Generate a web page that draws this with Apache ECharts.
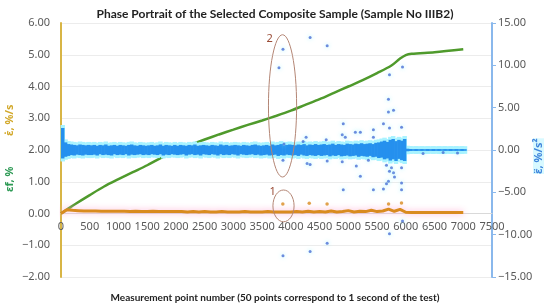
<!DOCTYPE html>
<html>
<head>
<meta charset="utf-8">
<script src="https://cdn.jsdelivr.net/npm/echarts@6/dist/echarts.min.js"></script>
<style>
  html, body { margin: 0; padding: 0; background: #fff; }
  #chart { width: 550px; height: 307px; }
</style>
</head>
<body>
<div id="chart"></div>
<script>
// strain εf, % (left axis)
var strainX = [0, 100, 250, 500, 750, 1000, 1250, 1500, 1750, 2000, 2250, 2500, 2750, 3000, 3250, 3500,
  3750, 4000, 4250, 4500, 4750, 5000, 5250, 5500, 5750, 5900, 6000, 6100, 6500, 7000];
var strainY = [0, 0.12, 0.30, 0.58, 0.85, 1.08, 1.30, 1.52, 1.76, 1.98, 2.16, 2.33, 2.49, 2.64, 2.79, 2.93,
  3.08, 3.24, 3.42, 3.60, 3.80, 4.00, 4.20, 4.42, 4.66, 4.88, 4.99, 5.03, 5.08, 5.17];

// strain rate ε̇, %/s (left axis), one value every 100 points
var rateStep = 100;
var rateY = [0.00, 0.12, 0.10, 0.09, 0.08, 0.08, 0.08, 0.07, 0.07, 0.07,
  0.07, 0.07, 0.06, 0.07, 0.06, 0.06, 0.07, 0.06, 0.06, 0.06,
  0.06, 0.06, 0.05, 0.06, 0.05, 0.06, 0.05, 0.05, 0.06, 0.05,
  0.05, 0.05, 0.06, 0.05, 0.05, 0.05, 0.06, 0.05, 0.05, 0.05,
  0.05, 0.06, 0.05, 0.07, 0.05, 0.06, 0.05, 0.08, 0.05, 0.06,
  0.09, 0.05, 0.07, 0.06, 0.10, 0.06, 0.08, 0.14, 0.07, 0.13,
  0.04, 0.03, 0.03, 0.03, 0.03, 0.03, 0.03, 0.03, 0.03, 0.03, 0.03];
var rateOutX = [3860, 4320, 4630, 5700, 5925];
var rateOutY = [0.30, 0.32, 0.30, 0.30, 0.33];

// strain acceleration ε̈, %/s² (right axis): spread (max / min) of each 50-point window
var accelStep = 50;
var accelHigh = [2.6, 0.9, 0.7, 0.65, 0.6, 0.55, 0.65, 0.6, 0.55, 0.6,
  0.55, 0.6, 0.5, 0.6, 0.55, 0.65, 0.5, 0.55, 0.6, 0.5,
  0.6, 0.55, 0.5, 0.6, 0.65, 0.55, 0.5, 0.6, 0.55, 0.5,
  0.55, 0.6, 0.5, 0.55, 0.65, 0.5, 0.6, 0.55, 0.5, 0.6,
  0.5, 0.6, 0.55, 0.5, 0.6, 0.55, 0.65, 0.5, 0.55, 0.6,
  0.55, 0.5, 0.6, 0.55, 0.5, 0.65, 0.55, 0.6, 0.5, 0.55,
  0.6, 0.55, 0.5, 0.6, 0.55, 0.5, 0.6, 0.65, 0.55, 0.5,
  0.55, 0.6, 0.5, 0.65, 0.55, 0.6, 0.7, 0.55, 0.6, 0.65,
  0.6, 0.55, 0.65, 0.6, 0.7, 0.55, 0.65, 0.6, 0.7, 0.6,
  0.65, 0.7, 0.6, 0.65, 0.75, 0.6, 0.7, 0.65, 0.6, 0.75,
  0.7, 0.65, 0.75, 0.7, 0.8, 0.7, 0.75, 0.8, 0.7, 0.85,
  0.9, 1.0, 1.1, 0.95, 1.2, 1.3, 1.05, 1.2, 1.1, 1.3,
  0.15, 0.12, 0.1, 0.12, 0.1, 0.12, 0.1, 0.12, 0.1, 0.12,
  0.1, 0.12, 0.1, 0.12, 0.1, 0.12, 0.1, 0.12, 0.1, 0.12,
  0.1];
var accelLow = [-1.0, -0.8, -0.7, -0.6, -0.65, -0.55, -0.6, -0.65, -0.55, -0.6,
  -0.6, -0.55, -0.65, -0.5, -0.6, -0.55, -0.6, -0.65, -0.5, -0.6,
  -0.55, -0.6, -0.5, -0.65, -0.55, -0.6, -0.55, -0.5, -0.6, -0.55,
  -0.6, -0.5, -0.55, -0.6, -0.5, -0.65, -0.55, -0.6, -0.5, -0.55,
  -0.6, -0.55, -0.5, -0.65, -0.55, -0.5, -0.6, -0.55, -0.65, -0.5,
  -0.55, -0.6, -0.5, -0.55, -0.65, -0.5, -0.6, -0.55, -0.6, -0.5,
  -0.55, -0.65, -0.5, -0.55, -0.6, -0.55, -0.5, -0.6, -0.55, -0.65,
  -0.6, -0.55, -0.65, -0.6, -0.55, -0.7, -0.6, -0.65, -0.55, -0.6,
  -0.65, -0.6, -0.7, -0.55, -0.65, -0.7, -0.6, -0.65, -0.7, -0.6,
  -0.7, -0.65, -0.6, -0.75, -0.65, -0.7, -0.6, -0.75, -0.7, -0.65,
  -0.75, -0.7, -0.65, -0.8, -0.7, -0.75, -0.8, -0.7, -0.85, -0.8,
  -0.95, -0.9, -1.1, -1.0, -1.25, -1.1, -1.3, -1.05, -1.2, -1.3,
  -0.15, -0.12, -0.1, -0.12, -0.1, -0.12, -0.1, -0.12, -0.1, -0.12,
  -0.1, -0.12, -0.1, -0.12, -0.1, -0.12, -0.1, -0.12, -0.1, -0.12,
  -0.1];
var accelOutX = [3863, 3793, 4335, 4632, 5943, 5716, 5698, 5698, 5786, 4912, 5611, 5926, 5122, 5209, 4894, 4947,
  5436, 5436, 5716, 4265, 4213, 4615, 3880, 3863, 4283, 4335, 4632, 4894, 5139, 5349, 5664, 5751, 5786,
  5716, 5926, 5209, 5803, 5698, 5664, 5926, 4912, 5436, 5611, 5926, 5943, 5716, 4632, 4335, 3863,
  6300, 6650, 6900];
var accelOutY = [11.9, 9.7, 13.3, 12.3, 9.8, 8.9, 6.0, 4.5, 4.7, 3.1, 3.1, 2.7, 2.1, 2.1, 1.8, 1.5,
  2.4, 1.5, 2.6, 1.5, 1.0, 1.2, 0.7, -1.2, -1.6, -1.7, -1.3, -1.4, -1.9, -1.2, -1.8, -2.1, -2.7,
  -2.5, -2.1, -3.1, -3.2, -3.7, -4.0, -3.9, -4.7, -4.7, -4.6, -4.7, -8.4, -9.9, -11.0, -12.0, -12.5,
  -0.4, -0.3, -0.35];

var leftTicks = { min: -2, max: 6, interval: 1 };
var rightTicks = { min: -15, max: 15, interval: 5 };
var xTicks = { min: 0, max: 7500, interval: 500 };

function pairs(xs, ys) {
  var out = [];
  for (var i = 0; i < ys.length; i++) out.push([xs[i], ys[i]]);
  return out;
}
function stepped(step, ys) {
  var out = [];
  for (var i = 0; i < ys.length; i++) out.push([i * step, ys[i]]);
  return out;
}
function windows(step, hi, lo) {
  var out = [];
  for (var i = 0; i < hi.length; i++) out.push([i * step, hi[i], lo[i]]);
  return out;
}
function fmt2(v) {
  return (v < 0 ? '\u2212' : '') + Math.abs(v).toFixed(2);
}

var gridTop = 23, gridBottom = 30, chartH = 307;
// x axis crosses the left axis at 0
var zeroOffset = (chartH - gridTop - gridBottom) * (0 - leftTicks.min) / (leftTicks.max - leftTicks.min);

var labelFont = { color: '#595959', fontSize: 11, fontFamily: 'Noto Sans' };
var chart = echarts.init(document.getElementById('chart'));

var option = {
  animation: false,
  title: {
    text: 'Phase Portrait of the Selected Composite Sample (Sample No IIIB2)',
    left: 'center', top: 3,
    textStyle: { fontSize: 12, fontWeight: 'bold', color: '#222', fontFamily: 'Lato' }
  },
  grid: { left: 61, right: 58, top: gridTop, bottom: gridBottom },
  xAxis: {
    type: 'value', min: xTicks.min, max: xTicks.max, interval: xTicks.interval,
    offset: -zeroOffset,
    axisLine: { onZero: false, lineStyle: { color: '#d9d9d9' } },
    axisTick: { show: false },
    splitLine: { show: false },
    axisLabel: Object.assign({ margin: 8, formatter: function (v) { return String(v); } }, labelFont)
  },
  yAxis: [{
    type: 'value', min: leftTicks.min, max: leftTicks.max, interval: leftTicks.interval,
    axisLine: { show: true, lineStyle: { color: '#d8b545', width: 2 } },
    axisTick: { show: false },
    splitLine: { lineStyle: { color: '#ececec' } },
    axisLabel: Object.assign({ margin: 11, formatter: fmt2 }, labelFont)
  }, {
    type: 'value', min: rightTicks.min, max: rightTicks.max, interval: rightTicks.interval,
    position: 'right',
    axisLine: { show: true, lineStyle: { color: '#8ab8ec', width: 2 } },
    axisTick: { show: true, length: 4, lineStyle: { color: '#8ab8ec' } },
    splitLine: { show: false },
    axisLabel: Object.assign({ margin: 6, formatter: fmt2 }, labelFont)
  }],
  series: [{
    name: 'strain', type: 'line', yAxisIndex: 0, symbol: 'none', smooth: 0.3,
    data: pairs(strainX, strainY),
    lineStyle: { color: '#4f9a2c', width: 2.5 },
    z: 2
  }, {
    name: 'accel', type: 'custom', yAxisIndex: 1,
    data: windows(accelStep, accelHigh, accelLow),
    encode: { x: 0, y: [1, 2] },
    renderItem: function (params, api) {
      var p0 = api.coord([api.value(0), api.value(1)]);
      var p1 = api.coord([api.value(0) + accelStep, api.value(2)]);
      var w = Math.max(p1[0] - p0[0], 1) + 0.6;
      var h = p1[1] - p0[1];
      return {
        type: 'group',
        children: [{
          type: 'rect', z2: 0,
          shape: { x: p0[0] - 0.5, y: p0[1] - 3, width: w + 1, height: h + 6 },
          style: { fill: '#a9f3ff' }
        }, {
          type: 'rect', z2: 1,
          shape: { x: p0[0], y: p0[1], width: w, height: h },
          style: { fill: '#2590ee' }
        }]
      };
    },
    z: 3
  }, {
    name: 'accelOut', type: 'scatter', yAxisIndex: 1, symbolSize: 3,
    data: pairs(accelOutX, accelOutY),
    itemStyle: { color: '#4a6fd6', shadowColor: 'rgba(120,240,255,0.9)', shadowBlur: 4 },
    z: 4
  }, {
    name: 'rate', type: 'line', yAxisIndex: 0, symbol: 'none',
    data: stepped(rateStep, rateY),
    lineStyle: { color: '#d98b1f', width: 3, shadowColor: 'rgba(255,170,210,0.9)', shadowBlur: 6 },
    z: 4
  }, {
    name: 'rateOut', type: 'scatter', yAxisIndex: 0, symbolSize: 3.5,
    data: pairs(rateOutX, rateOutY),
    itemStyle: { color: '#d98b1f' },
    z: 4
  }]
};
chart.setOption(option);

// ellipses marking points 1 and 2, placed in data coordinates
function px(x, y) { return chart.convertToPixel({ xAxisIndex: 0, yAxisIndex: 0 }, [x, y]); }
var c1 = px(3872, 0.24), c2 = px(3855, 3.39);
var e1 = px(3872 + 184, 0.24 + 0.5), e2 = px(3855 + 245, 3.39 + 2.24);
var ringColor = '#b38574';
chart.setOption({
  graphic: [
    { type: 'ellipse', shape: { cx: c1[0], cy: c1[1], rx: e1[0] - c1[0], ry: c1[1] - e1[1] },
      style: { fill: 'none', stroke: ringColor, lineWidth: 1 }, z: 10 },
    { type: 'ellipse', shape: { cx: c2[0], cy: c2[1], rx: e2[0] - c2[0], ry: c2[1] - e2[1] },
      style: { fill: 'none', stroke: ringColor, lineWidth: 1 }, z: 10 },
    { type: 'text', x: c1[0] - 14, y: c1[1] - 20,
      style: { text: '1', fill: '#9a4b35', fontSize: 11, fontFamily: 'Noto Sans' }, z: 10 },
    { type: 'text', x: c2[0] - 16, y: c2[1] - 73,
      style: { text: '2', fill: '#9a4b35', fontSize: 11, fontFamily: 'Noto Sans' }, z: 10 },
    // axis names
    { type: 'text', x: 4, y: 136, rotation: Math.PI / 2,
      style: { text: '\u03B5\u0307, %/s', fill: '#d2a82a', fontSize: 11, fontWeight: 'bold', fontFamily: 'Noto Sans' } },
    { type: 'text', x: 4, y: 192, rotation: Math.PI / 2,
      style: { text: '\u03B5f, %', fill: '#2e9a55', fontSize: 11, fontWeight: 'bold', fontFamily: 'Noto Sans' } },
    { type: 'text', x: 533, y: 174, rotation: Math.PI / 2,
      style: { text: '\u03B5\u0308, %/s\u00B2', fill: '#3f86dc', fontSize: 11, fontWeight: 'bold', fontFamily: 'Noto Sans',
        backgroundColor: 'rgba(190,245,255,0.6)' } },
    { type: 'text', left: 'center', top: 293,
      style: { text: 'Measurement point number (50 points correspond to 1 second of the test)',
        fill: '#222', fontSize: 10, fontWeight: 'bold', fontFamily: 'Lato' } }
  ]
});
</script>
</body>
</html>
